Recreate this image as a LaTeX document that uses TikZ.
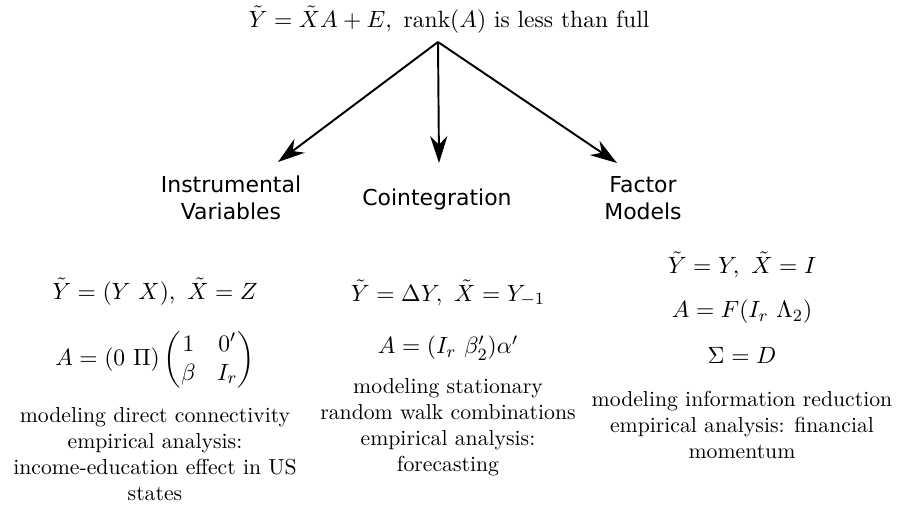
\documentclass[tikz,border=0pt]{standalone}
\usepackage{amsmath}
\usepackage{fontspec}
\newfontfamily\headfont{DejaVu Sans}
\usetikzlibrary{arrows.meta}
\begin{document}
\begin{tikzpicture}[x=0.4651pt,y=-0.4651pt,
  head/.style={font=\headfont\fontsize{10.2}{12.6}\selectfont, align=center, inner sep=0pt},
  body/.style={font=\fontsize{10.1}{12.1}\selectfont, align=center, inner sep=0pt},
  eq/.style={font=\fontsize{10.95}{13.6}\selectfont, inner sep=0pt},
  link/.style={line width=0.9pt, -{Stealth[length=12.5pt,width=8pt,inset=4pt]}}]
\useasboundingbox (0,0) rectangle (898,506);
\node[inner sep=0pt, font=\fontsize{10.95}{13.6}\selectfont] (top) at (449,20)
  {$\tilde{Y}=\tilde{X}A+E,\ \operatorname{rank}(A)$ is less than full};
\coordinate (apex) at (438,42);
\coordinate (tipL) at (278,162);
\coordinate (tipM) at (439,163);
\coordinate (tipR) at (617,163);
\draw[link] (apex) -- (tipL);
\draw[link] (apex) -- (tipM);
\draw[link] (apex) -- (tipR);

\node[head] (iv) at (231,198) {Instrumental\\Variables};
\node[head] (ci) at (437,199) {Cointegration};
\node[head] (fm) at (643,198) {Factor\\Models};

\node[eq] (l1) at (155,292) {$\tilde{Y}=(Y\ X),\ \tilde{X}=Z$};
\node[eq] (l2) at (155,360) {$A=(0\ \Pi)\begin{pmatrix}1 & 0'\\ \beta & I_r\end{pmatrix}$};
\node[body] (l3) at (155,454) {modeling direct connectivity\\empirical analysis:\\income-education effect in US\\states};

\node[eq] (m1) at (448,293) {$\tilde{Y}=\Delta Y,\ \tilde{X}=Y_{-1}$};
\node[eq] (m2) at (448,348) {$A=(I_r\ \beta_2')\alpha'$};
\node[body] (m3) at (448,427) {modeling stationary\\random walk combinations\\empirical analysis:\\forecasting};

\node[eq] (r1) at (742,265) {$\tilde{Y}=Y,\ \tilde{X}=I$};
\node[eq] (r2) at (742,312) {$A=F(I_r\ \Lambda_2)$};
\node[eq] (r3) at (742,355) {$\Sigma=D$};
\node[body] (r4) at (742,425) {modeling information reduction\\empirical analysis: financial\\momentum};
\end{tikzpicture}
\end{document}
